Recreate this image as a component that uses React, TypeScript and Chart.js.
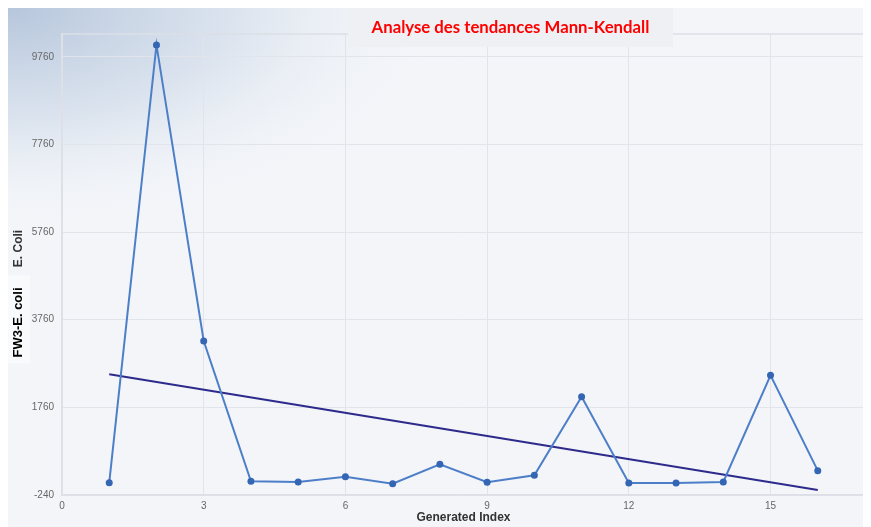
import React, { useEffect, useRef } from "react";
import { Chart, registerables } from "chart.js";

Chart.register(...registerables);

// ---- Data ----
const indices = [1, 2, 3, 4, 5, 6, 7, 8, 9, 10, 11, 12, 13, 14, 15, 16];
const values = [41, 10030, 3275, 73, 57, 178, 18, 460, 50, 210, 2000, 34, 34, 57, 2490, 315];
const trendX = [1, 16];
const trendY = [2514, -126];
const yTickValues = [-240, 1760, 3760, 5760, 7760, 9760];
const xTickValues = [0, 3, 6, 9, 12, 15];
const chartTitle = "Analyse des tendances Mann-Kendall";
const yTitleMain = "FW3-E. coli";
const yTitleUnder = "E. Coli";
const xTitle = "Generated Index";

const FONT = "'Liberation Sans', Arial, sans-serif";

const decorPlugin = {
  id: "decor",
  beforeDraw(chart: any) {
    const { ctx, width, height } = chart;
    ctx.save();
    ctx.fillStyle = "#f3f5f9";
    ctx.fillRect(0, 0, width, height);
    ctx.save();
    ctx.scale(1, 0.5);
    const g = ctx.createRadialGradient(0, 0, 0, 0, 0, 440);
    g.addColorStop(0, "rgba(182,198,220,1)");
    g.addColorStop(0.5, "rgba(212,222,235,0.8)");
    g.addColorStop(1, "rgba(243,245,249,0)");
    ctx.fillStyle = g;
    ctx.fillRect(0, 0, width, height * 2);
    ctx.restore();
    ctx.restore();
  },
  beforeDatasetsDraw(chart: any) {
    const { ctx, chartArea } = chart;
    ctx.save();
    ctx.strokeStyle = "#dcdfe6";
    ctx.lineWidth = 1.5;
    ctx.beginPath();
    ctx.moveTo(chartArea.left, chartArea.top);
    ctx.lineTo(chartArea.right, chartArea.top);
    ctx.lineTo(chartArea.right, chartArea.bottom);
    ctx.stroke();
    ctx.restore();
  },
  afterDraw(chart: any) {
    const { ctx, chartArea } = chart;
    ctx.save();
    // Title box
    const cx = chartArea.left + (chartArea.right - chartArea.left) * 0.5585;
    const boxW = 325;
    ctx.fillStyle = "#eff0f3";
    ctx.fillRect(cx - boxW / 2, 0, boxW, 39);
    ctx.fillStyle = "#ff0000";
    let size = 15;
    ctx.font = `bold ${size}px Lato, ${FONT}`;
    const w = ctx.measureText(chartTitle).width;
    size = size * (278 / w);
    ctx.font = `bold ${size}px Lato, ${FONT}`;
    ctx.textAlign = "center";
    ctx.textBaseline = "middle";
    ctx.fillText(chartTitle, cx, 20);

    // Y titles
    const midY = (chartArea.top + chartArea.bottom) / 2;
    ctx.save();
    ctx.translate(11, midY - 16);
    ctx.rotate(-Math.PI / 2);
    ctx.fillStyle = "#333333";
    ctx.font = `bold 12px ${FONT}`;
    ctx.fillText(yTitleUnder, 0, 0);
    ctx.restore();

    ctx.fillStyle = "#f9fafc";
    ctx.fillRect(-1, midY + 11, 23, 88);
    ctx.save();
    ctx.translate(10, midY + 58);
    ctx.rotate(-Math.PI / 2);
    ctx.fillStyle = "#000000";
    ctx.font = `bold 13px ${FONT}`;
    ctx.fillText(yTitleMain, 0, 0);
    ctx.restore();
    ctx.restore();
  },
};

export default function App() {
  const ref = useRef<HTMLCanvasElement | null>(null);
  useEffect(() => {
    if (!ref.current) return;
    const chart = new Chart(ref.current, {
      type: "line",
      data: {
        datasets: [
          {
            label: "FW3-E. coli",
            data: indices.map((x, i) => ({ x, y: values[i] })),
            borderColor: "#4d7fc8",
            backgroundColor: "#3566b4",
            borderWidth: 2,
            pointRadius: 3.5,
            pointBorderWidth: 0,
            tension: 0,
          },
          {
            label: "Trend",
            data: trendX.map((x, i) => ({ x, y: trendY[i] })),
            borderColor: "#2e2a8c",
            backgroundColor: "#2e2a8c",
            borderWidth: 2,
            pointRadius: 0,
            tension: 0,
          },
        ],
      },
      options: {
        animation: false,
        responsive: false,
        layout: { padding: { top: 26, right: 6, left: 0, bottom: 0 } },
        plugins: {
          legend: { display: false },
          tooltip: { enabled: false },
          title: { display: false },
        },
        scales: {
          x: {
            type: "linear",
            min: 0,
            max: 17,
            afterBuildTicks: (scale: any) => {
              scale.ticks = xTickValues.map((v) => ({ value: v }));
            },
            afterFit: (scale: any) => {
              scale.height = 32;
            },
            grid: { color: "#e1e4eb", drawTicks: false, lineWidth: 1 },
            border: { color: "#dcdfe6", width: 1.5 },
            ticks: {
              padding: 5,
              color: "#666666",
              font: { family: FONT, size: 10 },
              maxRotation: 0,
            },
            title: {
              display: true,
              text: xTitle,
              color: "#333333",
              font: { family: FONT, size: 12, weight: "bold" },
              padding: { top: 0, bottom: 2 },
            },
          },
          y: {
            type: "linear",
            min: -240,
            max: 10280,
            afterBuildTicks: (scale: any) => {
              scale.ticks = yTickValues.map((v) => ({ value: v }));
            },
            afterFit: (scale: any) => {
              scale.width = 54;
            },
            grid: { color: "#e1e4eb", drawTicks: false, lineWidth: 1 },
            border: { color: "#dcdfe6", width: 1.5 },
            ticks: {
              padding: 8,
              color: "#666666",
              font: { family: FONT, size: 10 },
              callback: (v: any) => String(v),
            },
            title: { display: false },
          },
        },
      },
      plugins: [decorPlugin],
    });
    return () => chart.destroy();
  }, []);
  return (
    <div style={{ width: 863, height: 519 }}>
      <canvas ref={ref} width={863} height={519} style={{ display: "block" }} />
    </div>
  );
}
